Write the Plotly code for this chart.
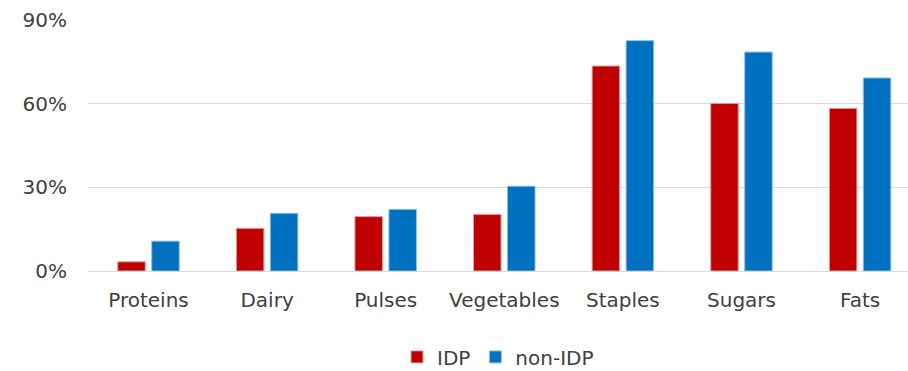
import plotly.graph_objects as go

# Share of households consuming each food group
categories = ["Proteins", "Dairy", "Pulses", "Vegetables", "Staples", "Sugars", "Fats"]
idp = [0.033, 0.153, 0.195, 0.203, 0.735, 0.601, 0.583]
non_idp = [0.107, 0.207, 0.221, 0.304, 0.826, 0.785, 0.692]
y_ticks = [0, 0.3, 0.6, 0.9]

FONT = "DejaVu Sans"
TEXT = "#404040"
GRID = "#d9d9d9"
SIZE = 20

fig = go.Figure()
fig.add_trace(go.Bar(
    x=categories, y=idp, name="IDP",
    marker=dict(color="#C00000", line=dict(color="#d9a0a0", width=1)),
))
fig.add_trace(go.Bar(
    x=categories, y=non_idp, name="non-IDP",
    marker=dict(color="#0070C0", line=dict(color="#8fbde3", width=1)),
))

fig.update_layout(
    width=908, height=371,
    margin=dict(l=88, r=0, t=20, b=100, autoexpand=False),
    paper_bgcolor="white", plot_bgcolor="white",
    font=dict(family=FONT, size=SIZE, color=TEXT),
    barmode="group", bargap=0.427, bargroupgap=0.19,
    showlegend=True,
    legend=dict(
        orientation="h", x=0.5, xanchor="center",
        yref="container", y=0.038, yanchor="middle",
        font=dict(family=FONT, size=SIZE, color=TEXT),
        itemwidth=30, traceorder="normal",
    ),
)
fig.update_xaxes(
    range=[-0.51, 6.404], showgrid=False, showline=False, zeroline=False,
    ticks="", tickfont=dict(family=FONT, size=SIZE, color=TEXT),
    ticklabelstandoff=15, automargin=False, fixedrange=True,
)
fig.update_yaxes(
    range=[0, 0.9], tickvals=y_ticks, tickformat=".0%",
    showgrid=True, gridcolor=GRID, gridwidth=1,
    zeroline=True, zerolinecolor=GRID, zerolinewidth=1,
    showline=False, ticks="", ticklabelstandoff=20, automargin=False,
    tickfont=dict(family=FONT, size=SIZE, color=TEXT), fixedrange=True,
)

fig.write_html("out.html")
